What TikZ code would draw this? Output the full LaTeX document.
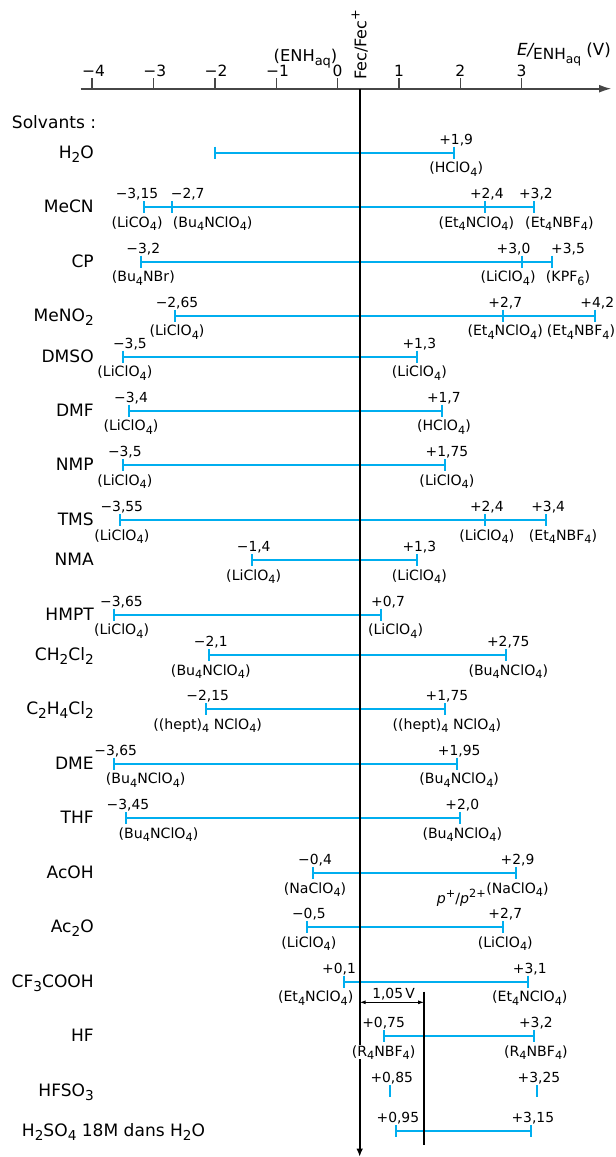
\documentclass[tikz,border=0pt]{standalone}
\usepackage{fontspec}
\setmainfont{DejaVu Sans}
\usetikzlibrary{arrows.meta}
\definecolor{winblue}{RGB}{0,174,239}
\definecolor{axisgray}{RGB}{70,70,70}
\newcommand{\ind}[1]{\raisebox{-0.24em}{\scalebox{0.8}{#1}}}
\newcommand{\expo}[1]{\raisebox{0.42em}{\scalebox{0.8}{#1}}}
\newcommand{\wintick}[2]{\draw[window] (#1,{#2-6}) -- (#1,{#2+6});}
\begin{document}
\begin{tikzpicture}[x=0.75pt, y=-0.75pt,
    window/.style={draw=winblue, line width=1.5pt},
    solv/.style={font=\fontsize{12.8}{15}\selectfont, anchor=base east, inner sep=0pt},
    val/.style={font=\fontsize{10.4}{12}\selectfont, anchor=base, inner sep=0pt, xshift=1.5pt},
    salt/.style={font=\fontsize{10.6}{13}\selectfont, anchor=base, inner sep=0pt, xshift=1.5pt},
    axlab/.style={font=\fontsize{11.6}{14}\selectfont, anchor=base, inner sep=0pt}]
    \useasboundingbox (0,0) rectangle (616,1157);

        \coordinate (axstart) at (80.7,88.7);
        \coordinate (axend) at (611.7,88.7);
        \draw[axisgray, line width=1.5pt, -{Latex[length=9.5pt,width=6pt]}] (axstart) -- (axend);

        \node[solv, anchor=base west] (solvants) at (11.7,128.3) {Solvants :};
        \node[solv] (h2o) at (94,158.2) {H\ind{2}O};
        \node[solv] (mecn) at (94,212.8) {MeCN};
        \node[solv] (cp) at (94,267.2) {CP};
        \node[solv] (meno2) at (94,321.2) {MeNO\ind{2}};
        \node[solv] (dmso) at (94,362.2) {DMSO};
        \node[solv] (dmf) at (94,416.2) {DMF};
        \node[solv] (nmp) at (94,470.8) {NMP};
        \node[solv] (tms) at (94,525.5) {TMS};
        \node[solv] (nma) at (94,565.8) {NMA};
        \node[solv] (hmpt) at (94,620.2) {HMPT};
        \node[solv] (ch2cl2) at (94,660.5) {CH\ind{2}Cl\ind{2}};
        \node[solv] (c2h4cl2) at (94,714.8) {C\ind{2}H\ind{4}Cl\ind{2}};
        \node[solv] (dme) at (94,769.2) {DME};
        \node[solv] (thf) at (94,823.8) {THF};
        \node[solv] (acoh) at (94,878.5) {AcOH};
        \node[solv] (ac2o) at (94,932.8) {Ac\ind{2}O};
        \node[solv] (cf3cooh) at (94,987.2) {CF\ind{3}COOH};
        \node[solv] (hf) at (94,1041.5) {HF};
        \node[solv] (hfso3) at (94,1096.5) {HFSO\ind{3}};
        \node[solv, anchor=base west] (h2so4) at (21.7,1136.5) {H\ind{2}SO\ind{4} 18M dans H\ind{2}O};

    \begin{scope}[shift={(337.6,0)}, x=46.01pt]
        \foreach \v in {-4,...,3} \draw[axisgray, line width=1.1pt] (\v,78.3) -- (\v,88.7);
        \node[axlab] (t-4) at (-3.98,76.7) {−4};
        \node[axlab] (t-3) at (-2.98,76.7) {−3};
        \node[axlab] (t-2) at (-1.98,76.7) {−2};
        \node[axlab] (t-1) at (-0.98,76.7) {−1};
        \node[axlab] (t0) at (0,76.7) {0};
        \node[axlab] (t1) at (1,76.7) {1};
        \node[axlab] (t2) at (2,76.7) {2};
        \node[axlab] (t3) at (3,76.7) {3};
        \node[axlab, anchor=base east, font=\fontsize{12.2}{14}\selectfont] (enh) at (0,61.7) {(ENH\ind{aq})};
        \node[axlab, anchor=west, rotate=90, font=\fontsize{12}{14}\selectfont] (fec) at (0.36,80) {Fec/Fec\expo{+}};
        \node[axlab, anchor=base west, font=\fontsize{12.5}{14}\selectfont] (eaxis) at (2.92,55) {{\itshape E/}\raisebox{-0.5ex}{\scalebox{0.92}{ENH\ind{aq}}} (V)};

        \draw[window] (-2,152.7) -- (1.9,152.7);
        \wintick{-2}{152.7} \wintick{1.9}{152.7}
        \node[val] (h2o-v2) at (1.9,144.0) {+1,9};
        \node[salt] (h2o-s2) at (1.9,172.7) {(HClO\ind4)};

        \draw[window] (-3.15,207.3) -- (3.2,207.3);
        \wintick{-3.15}{207.3} \wintick{-2.7}{207.3} \wintick{2.4}{207.3} \wintick{3.2}{207.3}
        \node[val, xshift=-7pt] (mecn-v1) at (-3.15,198.6) {−3,15};
        \node[val, anchor=base west, xshift=-2.5pt] (mecn-v2) at (-2.7,198.6) {−2,7};
        \node[val] (mecn-v3) at (2.4,198.6) {+2,4};
        \node[val] (mecn-v4) at (3.2,198.6) {+3,2};
        \node[salt, xshift=-7pt] (mecn-s1) at (-3.15,227.3) {(LiCO\ind4)};
        \node[salt, anchor=base west, xshift=-1pt] (mecn-s2) at (-2.7,227.3) {(Bu\ind4NClO\ind4)};
        \node[salt, xshift=-7.8pt] (mecn-s3) at (2.4,227.3) {(Et\ind4NClO\ind4)};
        \node[salt, anchor=base west, xshift=-8.2pt] (mecn-s4) at (3.2,227.3) {(Et\ind4NBF\ind4)};

        \draw[window] (-3.2,261.7) -- (3.5,261.7);
        \wintick{-3.2}{261.7} \wintick{3.0}{261.7} \wintick{3.5}{261.7}
        \node[val] (cp-v1) at (-3.2,253.0) {−3,2};
        \node[val, xshift=-7.6pt] (cp-v2) at (3.0,253.0) {+3,0};
        \node[val, xshift=10.3pt] (cp-v3) at (3.5,253.0) {+3,5};
        \node[salt] (cp-s1) at (-3.2,281.7) {(Bu\ind4NBr)};
        \node[salt, xshift=-11.7pt] (cp-s2) at (3.0,281.7) {(LiClO\ind4)};
        \node[salt, xshift=10.3pt] (cp-s3) at (3.5,281.7) {(KPF\ind6)};

        \draw[window] (-2.65,315.7) -- (4.2,315.7);
        \wintick{-2.65}{315.7} \wintick{2.7}{315.7} \wintick{4.2}{315.7}
        \node[val] (meno2-v1) at (-2.65,307.0) {−2,65};
        \node[val] (meno2-v2) at (2.7,307.0) {+2,7};
        \node[val] (meno2-v3) at (4.2,307.0) {+4,2};
        \node[salt] (meno2-s1) at (-2.65,335.7) {(LiClO\ind4)};
        \node[salt] (meno2-s2) at (2.7,335.7) {(Et\ind4NClO\ind4)};
        \node[salt, xshift=-12.2pt] (meno2-s3) at (4.2,335.7) {(Et\ind4NBF\ind4)};

        \draw[window] (-3.5,356.7) -- (1.3,356.7);
        \wintick{-3.5}{356.7} \wintick{1.3}{356.7}
        \node[val, xshift=3.8pt] (dmso-v1) at (-3.5,348.0) {−3,5};
        \node[val] (dmso-v2) at (1.3,348.0) {+1,3};
        \node[salt] (dmso-s1) at (-3.5,376.7) {(LiClO\ind4)};
        \node[salt] (dmso-s2) at (1.3,376.7) {(LiClO\ind4)};

        \draw[window] (-3.4,410.7) -- (1.7,410.7);
        \wintick{-3.4}{410.7} \wintick{1.7}{410.7}
        \node[val] (dmf-v1) at (-3.4,402.0) {−3,4};
        \node[val] (dmf-v2) at (1.7,402.0) {+1,7};
        \node[salt] (dmf-s1) at (-3.4,430.7) {(LiClO\ind4)};
        \node[salt] (dmf-s2) at (1.7,430.7) {(HClO\ind4)};

        \draw[window] (-3.5,465.3) -- (1.75,465.3);
        \wintick{-3.5}{465.3} \wintick{1.75}{465.3}
        \node[val] (nmp-v1) at (-3.5,456.6) {−3,5};
        \node[val] (nmp-v2) at (1.75,456.6) {+1,75};
        \node[salt] (nmp-s1) at (-3.5,485.3) {(LiClO\ind4)};
        \node[salt] (nmp-s2) at (1.75,485.3) {(LiClO\ind4)};

        \draw[window] (-3.55,520) -- (3.4,520);
        \wintick{-3.55}{520} \wintick{2.4}{520} \wintick{3.4}{520}
        \node[val] (tms-v1) at (-3.55,511.3) {−3,55};
        \node[val] (tms-v2) at (2.4,511.3) {+2,4};
        \node[val] (tms-v3) at (3.4,511.3) {+3,4};
        \node[salt] (tms-s1) at (-3.55,540) {(LiClO\ind4)};
        \node[salt] (tms-s2) at (2.4,540) {(LiClO\ind4)};
        \node[salt, xshift=11.1pt] (tms-s3) at (3.4,540) {(Et\ind4NBF\ind4)};

        \draw[window] (-1.4,560.3) -- (1.3,560.3);
        \wintick{-1.4}{560.3} \wintick{1.3}{560.3}
        \node[val] (nma-v1) at (-1.4,551.6) {−1,4};
        \node[val] (nma-v2) at (1.3,551.6) {+1,3};
        \node[salt] (nma-s1) at (-1.4,580.3) {(LiClO\ind4)};
        \node[salt] (nma-s2) at (1.3,580.3) {(LiClO\ind4)};

        \draw[window] (-3.65,614.7) -- (0.7,614.7);
        \wintick{-3.65}{614.7} \wintick{0.7}{614.7}
        \node[val, xshift=4.3pt] (hmpt-v1) at (-3.65,606.0) {−3,65};
        \node[val, xshift=4.1pt] (hmpt-v2) at (0.7,606.0) {+0,7};
        \node[salt, xshift=4.4pt] (hmpt-s1) at (-3.65,634.7) {(LiClO\ind4)};
        \node[salt, xshift=9.75pt] (hmpt-s2) at (0.7,634.7) {(LiClO\ind4)};

        \draw[window] (-2.1,655) -- (2.75,655);
        \wintick{-2.1}{655} \wintick{2.75}{655}
        \node[val] (ch2cl2-v1) at (-2.1,646.3) {−2,1};
        \node[val] (ch2cl2-v2) at (2.75,646.3) {+2,75};
        \node[salt] (ch2cl2-s1) at (-2.1,675) {(Bu\ind4NClO\ind4)};
        \node[salt] (ch2cl2-s2) at (2.75,675) {(Bu\ind4NClO\ind4)};

        \draw[window] (-2.15,709.3) -- (1.75,709.3);
        \wintick{-2.15}{709.3} \wintick{1.75}{709.3}
        \node[val] (c2h4cl2-v1) at (-2.15,700.6) {−2,15};
        \node[val] (c2h4cl2-v2) at (1.75,700.6) {+1,75};
        \node[salt] (c2h4cl2-s1) at (-2.15,729.3) {((hept)\ind4 NClO\ind4)};
        \node[salt] (c2h4cl2-s2) at (1.75,729.3) {((hept)\ind4 NClO\ind4)};

        \draw[window] (-3.65,763.7) -- (1.95,763.7);
        \wintick{-3.65}{763.7} \wintick{1.95}{763.7}
        \node[val] (dme-v1) at (-3.65,755.0) {−3,65};
        \node[val] (dme-v2) at (1.95,755.0) {+1,95};
        \node[salt, xshift=22.5pt] (dme-s1) at (-3.65,783.7) {(Bu\ind4NClO\ind4)};
        \node[salt] (dme-s2) at (1.95,783.7) {(Bu\ind4NClO\ind4)};

        \draw[window] (-3.45,818.3) -- (2.0,818.3);
        \wintick{-3.45}{818.3} \wintick{2.0}{818.3}
        \node[val] (thf-v1) at (-3.45,809.6) {−3,45};
        \node[val] (thf-v2) at (2.0,809.6) {+2,0};
        \node[salt, xshift=22.9pt] (thf-s1) at (-3.45,838.3) {(Bu\ind4NClO\ind4)};
        \node[salt] (thf-s2) at (2.0,838.3) {(Bu\ind4NClO\ind4)};

        \draw[window] (-0.4,873) -- (2.9,873);
        \wintick{-0.4}{873} \wintick{2.9}{873}
        \node[val] (acoh-v1) at (-0.4,864.3) {−0,4};
        \node[val] (acoh-v2) at (2.9,864.3) {+2,9};
        \node[salt] (acoh-s1) at (-0.4,893) {(NaClO\ind4)};
        \node[salt] (acoh-s2) at (2.9,893) {(NaClO\ind4)};
        \node[salt, anchor=base east, xshift=-1.5pt] (acoh-p) at (2.42,903) {\textit{p}\expo{+}/\textit{p}\expo{2+}};

        \draw[window] (-0.5,927.3) -- (2.7,927.3);
        \wintick{-0.5}{927.3} \wintick{2.7}{927.3}
        \node[val] (ac2o-v1) at (-0.5,918.6) {−0,5};
        \node[val] (ac2o-v2) at (2.7,918.6) {+2,7};
        \node[salt] (ac2o-s1) at (-0.5,947.3) {(LiClO\ind4)};
        \node[salt] (ac2o-s2) at (2.7,947.3) {(LiClO\ind4)};

        \draw[window] (0.1,981.7) -- (3.1,981.7);
        \wintick{0.1}{981.7} \wintick{3.1}{981.7}
        \node[val, xshift=-5pt] (cf3-v1) at (0.1,973.0) {+0,1};
        \node[val] (cf3-v2) at (3.1,973.0) {+3,1};
        \node[salt, xshift=-22.5pt] (cf3-s1) at (0.1,1001.7) {(Et\ind4NClO\ind4)};
        \node[salt] (cf3-s2) at (3.1,1001.7) {(Et\ind4NClO\ind4)};

        \draw[window] (0.75,1036) -- (3.2,1036);
        \wintick{0.75}{1036} \wintick{3.2}{1036}
        \node[val, xshift=-1.5pt] (hf-v1) at (0.75,1027.3) {+0,75};
        \node[val] (hf-v2) at (3.2,1027.3) {+3,2};
        \node[salt] (hf-s2) at (3.2,1056) {(R\ind4NBF\ind4)};

        \wintick{0.85}{1091} \wintick{3.25}{1091}
        \node[val] (hfso3-v1) at (0.85,1082.3) {+0,85};
        \node[val] (hfso3-v2) at (3.25,1082.3) {+3,25};

        \draw[window] (0.95,1131) -- (3.15,1131);
        \wintick{0.95}{1131} \wintick{3.15}{1131}
        \node[val] (h2so4-v1) at (0.95,1122.3) {+0,95};
        \node[val] (h2so4-v2) at (3.15,1122.3) {+3,15};

        \coordinate (fec-top) at (0.36,88.7);
        \coordinate (fec-bot) at (0.36,1156.7);
        \draw[line width=1.5pt, -{Latex[length=6pt,width=5pt]}] (fec-top) -- (fec-bot);
        \node[salt, fill=white, xshift=-1.5pt] (hf-s1) at (0.75,1056) {(R\ind4NBF\ind4)};

        \coordinate (lim-top) at (1.41,991.7);
        \coordinate (lim-bot) at (1.41,1145);
        \draw[line width=1pt] (lim-top) -- (lim-bot);
        \coordinate (dim-l) at (0.36,1002.3);
        \coordinate (dim-r) at (1.41,1002.3);
        \draw[line width=0.7pt, {Latex[length=4.5pt,width=3pt]}-{Latex[length=4.5pt,width=3pt]}] (dim-l) -- (dim-r);
        \node[val] (dim-lab) at (0.88,998.3) {1,05\,V};
    \end{scope}
\end{tikzpicture}
\end{document}
